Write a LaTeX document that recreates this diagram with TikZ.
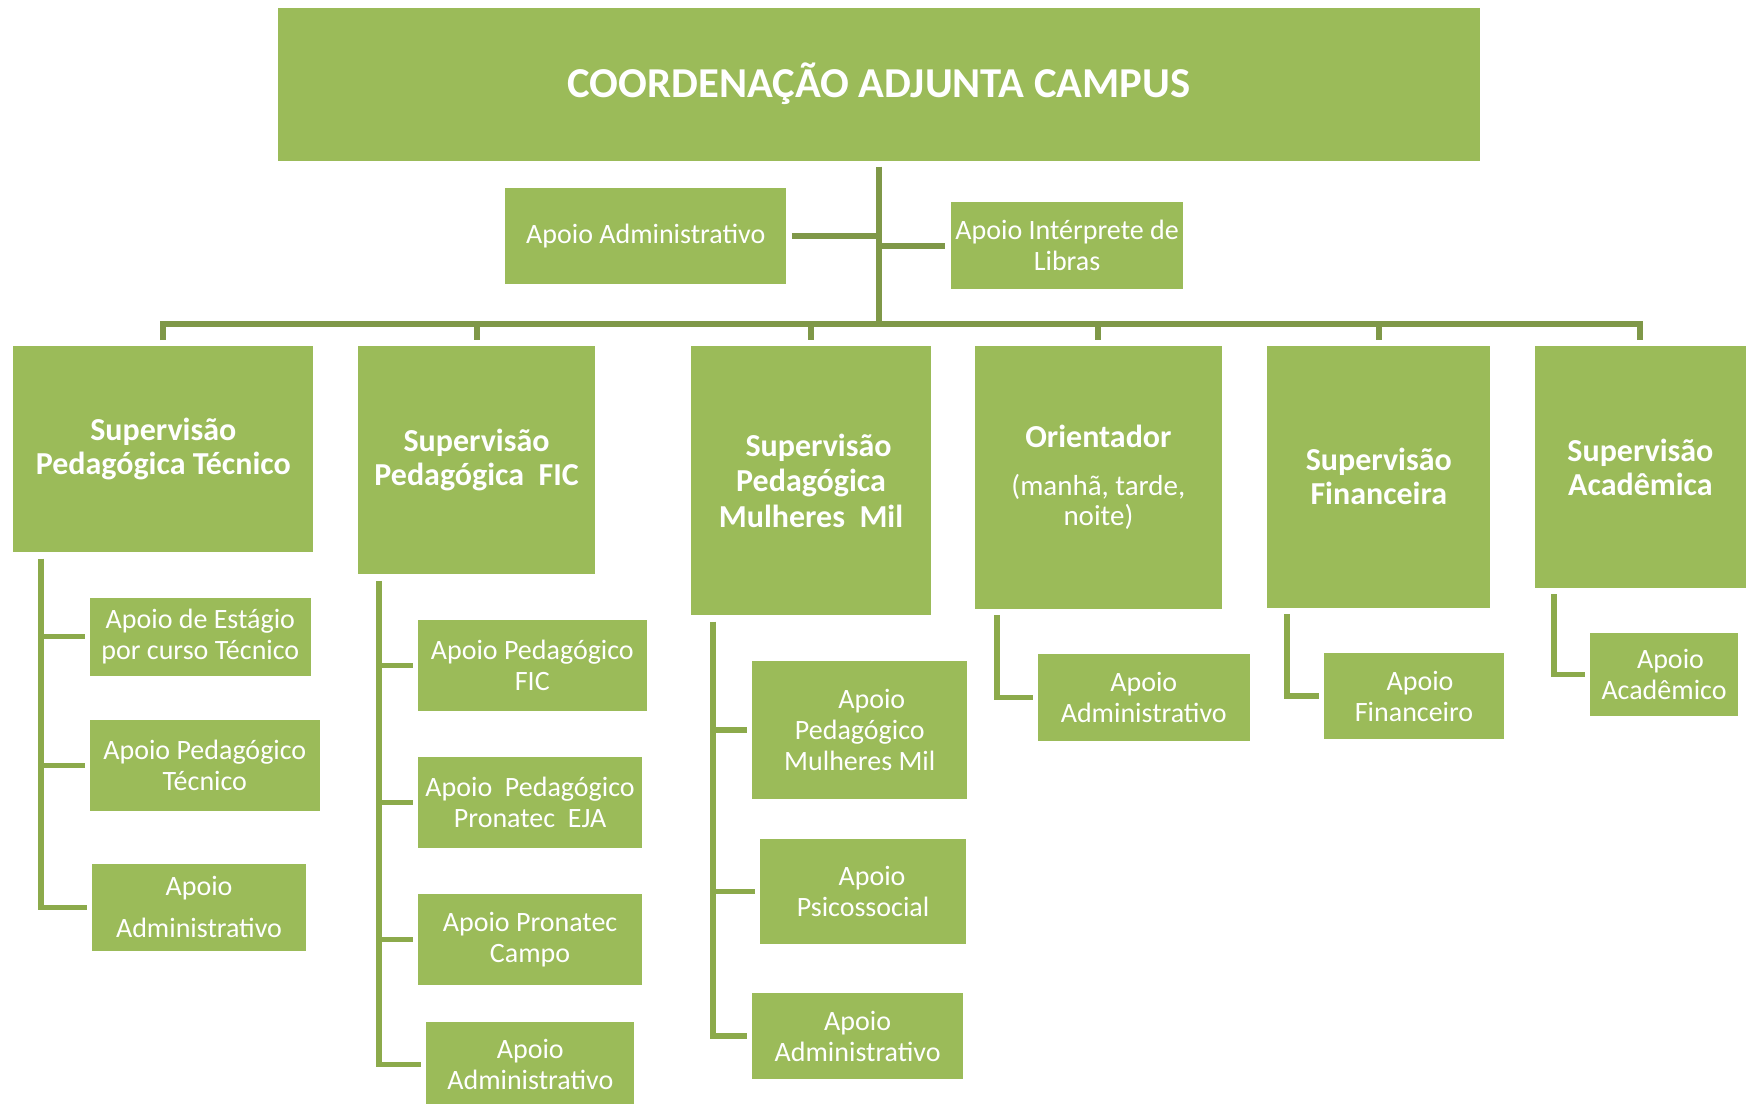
\documentclass[tikz,border=0pt]{standalone}
\usepackage{fontspec}
\setmainfont{Carlito}

\definecolor{boxgreen}{HTML}{9BBB59}
\definecolor{lineA}{HTML}{7F9848}
\definecolor{lineB}{HTML}{8CAA4B}

\tikzset{
  box/.style={fill=boxgreen, draw=none, inner sep=0pt, outer sep=0pt,
              text=white, align=center},
  subbox/.style={box, font=\fontsize{28}{31}\selectfont},
  headbox/.style={box, font=\bfseries\fontsize{32}{34}\selectfont},
  topline/.style={draw=lineA, line width=6pt, line join=miter},
  subline/.style={draw=lineB, line width=5.5pt, line join=miter},
}

% \orgbox[style]{name}{x1}{y1}{x2}{y2}{text}: a box spanning the two corners
\newcommand\orgbox[7][box]{%
  \pgfmathsetmacro\orgbw{(#5-#3)*1.1148}%
  \pgfmathsetmacro\orgbh{(#6-#4)*1.1148}%
  \node[#1, minimum width=\orgbw pt, minimum height=\orgbh pt, anchor=north west]
    (#2) at (#3,#4) {#7};%
}

\begin{document}
\begin{tikzpicture}[x=1.1148pt, y=-1.1148pt]
\useasboundingbox (0,0) rectangle (1568,990);

% top level
\orgbox[box, font=\bfseries\fontsize{42.6}{50}\selectfont]{coord}{249}{7}{1328}{144}{COORDENAÇÃO ADJUNTA CAMPUS}
\orgbox[subbox]{admtop}{453}{169}{705.5}{254.8}{Apoio Administrativo}
\orgbox[subbox]{libras}{852.9}{181.5}{1061.5}{259}{Apoio Intérprete de\\Libras}

% supervisions
\orgbox[headbox]{hspt}{12}{310}{281}{495.5}{Supervisão\\Pedagógica Técnico}
\orgbox[headbox]{hspf}{321}{310}{534}{515}{Supervisão\\Pedagógica~ FIC}
\orgbox[headbox, font=\bfseries\fontsize{32}{35.5}\selectfont]{hspmm}{620.2}{310}{834.9}{552}{\hspace*{15pt}Supervisão\\Pedagógica\\Mulheres~ Mil}
\orgbox[box, font=\fontsize{29}{30.7}\selectfont]{hori}{874.6}{310}{1096}{546.7}{{\bfseries\fontsize{32}{34}\selectfont Orientador}\\[16.7pt](manhã, tarde,\\noite)}
\orgbox[headbox]{hsf}{1136.6}{310}{1337}{545}{Supervisão\\Financeira}
\orgbox[headbox]{hsa}{1377}{310}{1566}{527.7}{Supervisão\\Acadêmica}

% support units
\orgbox[subbox]{a11}{80.4}{536}{279}{606}{Apoio de Estágio\\por curso Técnico}
\orgbox[subbox]{a12}{80.4}{646}{287}{727.6}{Apoio Pedagógico\\Técnico}
\orgbox[subbox]{a13}{82.6}{775}{274.5}{853}{Apoio\\[11pt]Administrativo}

\orgbox[subbox]{a21}{375}{556}{580}{638}{Apoio Pedagógico\\FIC}
\orgbox[subbox]{a22}{375}{678.6}{576}{761}{Apoio~ Pedagógico\\Pronatec~ EJA}
\orgbox[subbox]{a23}{375}{801.7}{576}{884}{Apoio Pronatec\\Campo}
\orgbox[subbox]{a24}{382.4}{917}{569}{993}{Apoio\\Administrativo}

\orgbox[subbox]{a31}{675}{592.7}{867.5}{716.7}{\hspace*{24pt}Apoio\\Pedagógico\\Mulheres Mil}
\orgbox[subbox]{a32}{682}{753}{866.3}{846.8}{\hspace*{18pt}Apoio\\Psicossocial}
\orgbox[subbox]{a33}{675}{890.7}{863.7}{968.2}{Apoio\\Administrativo}

\orgbox[subbox]{a41}{931}{587}{1121}{664.4}{Apoio\\Administrativo}
\orgbox[subbox]{a51}{1188}{585.5}{1348.9}{663.2}{\hspace*{12pt}Apoio\\Financeiro}
\orgbox[subbox]{a61}{1426}{568}{1559.3}{642}{\hspace*{13pt}Apoio\\Acadêmico}

% main trunk, side branches and bus
\coordinate (bus) at (789,290.4);
\draw[topline] ([yshift=-6pt]coord.south) -- (coord.south |- bus);
\draw[topline] ([xshift=5.5pt]admtop.east) -- (admtop.east -| coord.south);
\draw[topline] (libras.west -| coord.south) -- ([xshift=-5.5pt]libras.west);
\draw[topline] ([yshift=5.5pt]hspt.north) -- (hspt.north |- bus)
               -- (hsa.north |- bus) -- ([yshift=5.5pt]hsa.north);
\foreach \n in {hspf,hspmm,hori,hsf}
  \draw[topline] (\n.north |- bus) -- ([yshift=5.5pt]\n.north);

% column trunks
\coordinate (k1) at (36.6,501);
\coordinate (k2) at (340,521);
\coordinate (k3) at (639.5,557.7);
\coordinate (k4) at (894.4,552);
\coordinate (k5) at (1154.5,551);
\coordinate (k6) at (1394,533);

\draw[subline] (k1) |- ([xshift=-5pt]a13.west);
\foreach \n in {a11,a12}
  \draw[subline] (k1 |- \n.west) -- ([xshift=-5pt]\n.west);

\draw[subline] (k2) |- ([xshift=-5pt]a24.west);
\foreach \n in {a21,a22,a23}
  \draw[subline] (k2 |- \n.west) -- ([xshift=-5pt]\n.west);

\draw[subline] (k3) |- ([xshift=-5pt]a33.west);
\foreach \n in {a31,a32}
  \draw[subline] (k3 |- \n.west) -- ([xshift=-5pt]\n.west);

\draw[subline] (k4) |- ([xshift=-5pt]a41.west);
\draw[subline] (k5) |- ([xshift=-5pt]a51.west);
\draw[subline] (k6) |- ([xshift=-5pt]a61.west);
\end{tikzpicture}
\end{document}
